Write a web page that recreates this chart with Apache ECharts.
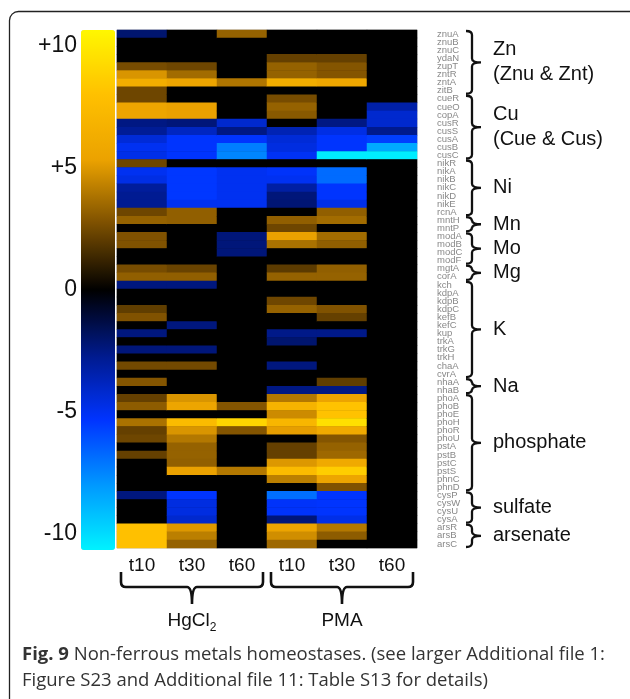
<!DOCTYPE html>
<html>
<head>
<meta charset="utf-8">
<script src="https://cdn.jsdelivr.net/npm/echarts@6/dist/echarts.min.js"></script>
<style>
  html, body { margin: 0; padding: 0; background: #fff; }
  #chart { width: 630px; height: 699px; }
</style>
</head>
<body>
<div id="chart"></div>
<script>
const genes = [
  "znuA", "znuB", "znuC", "ydaN", "zupT", "zntR", "zntA", "zitB",
  "cueR", "cueO", "copA", "cusR", "cusS", "cusA", "cusB", "cusC",
  "nikR", "nikA", "nikB", "nikC", "nikD", "nikE", "rcnA",
  "mntH", "mntP",
  "modA", "modB", "modC", "modF",
  "mgtA", "corA",
  "kch", "kdpA", "kdpB", "kdpC", "kefB", "kefC", "kup", "trkA", "trkG", "trkH", "chaA", "cvrA",
  "nhaA", "nhaB",
  "phoA", "phoB", "phoE", "phoH", "phoR", "phoU", "pstA", "pstB", "pstC", "pstS", "phnC", "phnD",
  "cysP", "cysW", "cysU", "cysA",
  "arsR", "arsB", "arsC"
];
const groupNames = ["Zn\n(Znu & Znt)", "Cu\n(Cue & Cus)", "Ni", "Mn", "Mo", "Mg", "K", "Na", "phosphate", "sulfate", "arsenate"];
const groupSizes = [8, 8, 7, 2, 4, 2, 12, 2, 12, 4, 3];
const timeLabels = ["t10", "t30", "t60", "t10", "t30", "t60"];
const treatments = ["HgCl2", "PMA"];
const colorbarTicks = [10, 5, 0, -5, -10];

// log2 fold change, one array per column, rows in gene order
const hgcl2T10 = [
  -2.1, 0, 0, 0, 2.6, 4.9, 6.3, 2.4,
  2.4, 5.6, 5.6, -2.5, -2.9, -4.4, -5, -4.8,
  2.4, -5, -4.7, -3, -2.8, -2.8, 2.4,
  3.3, 0,
  2.8, 2.8, 0, 0,
  2.6, 3.2,
  -2.4, 0, 0, 2.1, 2.8, 0, -2.4, 0, -2.3, 0, 2.5, 0,
  2.9, 0,
  2.2, 3.1, 0, 3.8, 2.2, 2.4, 0, 2.2, 0, 0, 0, 0,
  -2.4, 0, 0, 0,
  8, 8, 8
];
const hgcl2T30 = [
  0, 0, 0, 0, 2.4, 3.6, 5.6, 0,
  0, 5.3, 5.3, -2.3, -3.9, -5.3, -5.3, -5.3,
  0, -5.4, -5.4, -5.4, -5.4, -5, 3.2,
  3.2, 0,
  0, 0, 0, 0,
  2.3, 3.2,
  -2.4, 0, 0, 0, 0, -2.4, 0, 0, -2.3, 0, 2.5, 0,
  0, 0,
  4.9, 5.6, 0, 7.5, 4.9, 4, 3.3, 3.3, 3.2, 5.3, 0, 0,
  -5.3, -4.6, -4.6, -4.2,
  5, 4.2, 3.3
];
const hgcl2T60 = [
  3.3, 0, 0, 0, 0, 0, 3.9, 0,
  0, 0, 0, -4.2, -2.5, -5.3, -7.3, -7.5,
  0, -5, -5, -5, -5, -5, 0,
  0, 0,
  -2.3, -2.3, -2.3, 0,
  0, 0,
  0, 0, 0, 0, 0, 0, 0, 0, 0, 0, 0, 0,
  0, 0,
  0, 2.9, 0, 9, 2.9, 0, 0, 0, 0, 4, 0, 0,
  0, 0, 0, 0,
  0, 0, 0
];
const pmaT10 = [
  0, 0, 0, 2.2, 3.3, 3.3, 6.3, 0,
  2.6, 3.3, 3.0, 0, -3.6, -4.4, -4.6, -5.1,
  0, -5.2, -5, -3.2, -2.3, -2.2, 0,
  3.2, 2.4,
  5.3, 3.8, 0, 0,
  2, 3.3,
  0, 0, 2.4, 3.3, 0, 0, -2.6, -2.1, 0, 0, -2.4, 0,
  0, -2.5,
  4, 6.8, 4.6, 7.1, 5.2, 0, 2.2, 2.2, 5, 7.5, 4.2, 0,
  -6.9, -5.2, -5.2, -2.3,
  5.5, 4.7, 3.5
];
const pmaT30 = [
  0, 0, 0, 2.2, 2.9, 2.9, 5.8, 0,
  0, 0, 0, -2.5, -4.7, -5.3, -5.3, -10.5,
  0, -6.8, -6.8, -5.3, -5.3, -4.8, 3.2,
  3.6, 0,
  3.6, 3.2, 0, 0,
  3.2, 3.3,
  0, 0, 0, 2.8, 2.2, 0, -2.6, 0, 0, 0, 0, 0,
  2.1, -2.5,
  5.5, 8.1, 8.1, 9.5, 6, 2.9, 3.3, 3.5, 6, 8.6, 5.6, 2.8,
  -5.3, -5.3, -5.3, -4.8,
  4, 3.1, 0
];
const pmaT60 = [
  0, 0, 0, 0, 0, 0, 0, 0,
  0, -3.3, -4.2, -4.2, -2.7, -5.6, -8.5, -10.5,
  0, 0, 0, 0, 0, 0, 0,
  0, 0,
  0, 0, 0, 0,
  0, 0,
  0, 0, 0, 0, 0, 0, 0, 0, 0, 0, 0, 0,
  0, 0,
  0, 0, 0, 0, 0, 0, 0, 0, 0, 0, 0, 0,
  0, 0, 0, 0,
  0, 0, 0
];

const SANS = '"Liberation Sans", Arial, sans-serif';
const columns = [hgcl2T10, hgcl2T30, hgcl2T60, pmaT10, pmaT30, pmaT60];

const cells = [];
columns.forEach((col, c) => {
  col.forEach((v, r) => cells.push([c, r, v]));
});

// gene group ranges [firstRow, lastRow]
const groupRanges = [];
let start = 0;
groupSizes.forEach((n) => {
  groupRanges.push([start, start + n - 1]);
  start += n;
});
const treatmentRanges = [[0, 2], [3, 5]];

function subLabel(name) {
  const m = name.match(/^(\D+)(\d*)$/);
  return "{m|" + m[1] + "}" + (m[2] ? "{s|" + m[2] + "}" : "");
}

function rightBrace(params, api) {
  const s = api.value(0);
  const e = api.value(1);
  const rowH = api.size([0, 1])[1];
  const colW = api.size([1, 0])[0];
  const bx = api.coord([5, 0])[0] + colW / 2 + 55;
  const top = api.coord([0, s])[1] - rowH / 2 + 1;
  const bot = api.coord([0, e])[1] + rowH / 2 - 1;
  const mid = (top + bot) / 2;
  const path =
    "M" + (bx - 6) + " " + top +
    " Q" + bx + " " + top + " " + bx + " " + (top + 4) +
    " L" + bx + " " + (mid - 4) +
    " Q" + bx + " " + mid + " " + (bx + 9) + " " + mid +
    " Q" + bx + " " + mid + " " + bx + " " + (mid + 4) +
    " L" + bx + " " + (bot - 4) +
    " Q" + bx + " " + bot + " " + (bx - 6) + " " + bot;
  return {
    type: "group",
    children: [
      {
        type: "path",
        shape: { pathData: path },
        style: { fill: "none", stroke: "#111", lineWidth: 2.3 }
      },
      {
        type: "text",
        x: bx + 21,
        y: mid,
        style: {
          text: groupNames[params.dataIndex],
          fill: "#111",
          font: "20px " + SANS,
          align: "left",
          verticalAlign: "middle",
          lineHeight: 25
        }
      }
    ]
  };
}

function bottomBrace(params, api) {
  const s = api.value(0);
  const e = api.value(1);
  const rowH = api.size([0, 1])[1];
  const colW = api.size([1, 0])[0];
  const gb = api.coord([0, genes.length - 1])[1] + rowH / 2;
  const left = api.coord([s, 0])[0] - colW / 2 + 4;
  const right = api.coord([e, 0])[0] + colW / 2 - 4;
  const mid = (left + right) / 2;
  const yTop = gb + 24;
  const yLine = gb + 39;
  const yTip = gb + 56;
  const path =
    "M" + left + " " + yTop +
    " L" + left + " " + (yLine - 5) +
    " Q" + left + " " + yLine + " " + (left + 5) + " " + yLine +
    " L" + (mid - 5) + " " + yLine +
    " Q" + mid + " " + yLine + " " + mid + " " + yTip +
    " Q" + mid + " " + yLine + " " + (mid + 5) + " " + yLine +
    " L" + (right - 5) + " " + yLine +
    " Q" + right + " " + yLine + " " + right + " " + (yLine - 5) +
    " L" + right + " " + yTop;
  return {
    type: "group",
    children: [
      {
        type: "path",
        shape: { pathData: path },
        style: { fill: "none", stroke: "#111", lineWidth: 2.6 }
      },
      {
        type: "text",
        x: mid,
        y: gb + 73,
        style: {
          text: subLabel(treatments[params.dataIndex]),
          align: "center",
          verticalAlign: "middle",
          rich: {
            m: { fontSize: 19, fontFamily: SANS, fill: "#111", lineHeight: 26 },
            s: { fontSize: 12, fontFamily: SANS, fill: "#111", lineHeight: 26, verticalAlign: "bottom" }
          }
        }
      }
    ]
  };
}

const chart = echarts.init(document.getElementById("chart"));
chart.setOption({
  animation: false,
  backgroundColor: "#fff",
  title: {
    left: 22,
    top: 642,
    padding: 0,
    text:
      "{b|Fig. 9} Non-ferrous metals homeostases. (see larger Additional file 1:\n" +
      "Figure S23 and Additional file 11: Table S13 for details)",
    textStyle: {
      fontSize: 18.5,
      fontWeight: "normal",
      fontFamily: '"Open Sans", sans-serif',
      color: "#333",
      lineHeight: 26,
      rich: {
        b: { fontSize: 18.5, fontWeight: "bold", fontFamily: '"Open Sans", sans-serif', color: "#333", lineHeight: 26 }
      }
    }
  },
  graphic: [
    {
      type: "rect",
      silent: true,
      z: -10,
      shape: { x: 9.5, y: 11.5, width: 700, height: 740, r: 9 },
      style: { fill: "none", stroke: "#222", lineWidth: 1.3 }
    }
  ],
  grid: [
    { left: 117, top: 30, width: 300, height: 518, show: true, borderColor: "#bbb", borderWidth: 1, backgroundColor: "#000" },
    { left: 81, top: 30, width: 34, height: 520 }
  ],
  xAxis: [
    {
      type: "category",
      gridIndex: 0,
      data: timeLabels,
      axisLine: { show: false },
      axisTick: { show: false },
      splitLine: { show: false },
      axisLabel: { fontSize: 19, fontFamily: SANS, color: "#111", margin: 8, interval: 0 }
    },
    { type: "value", gridIndex: 1, show: false, min: 0, max: 1 }
  ],
  yAxis: [
    {
      type: "category",
      gridIndex: 0,
      data: genes,
      inverse: true,
      position: "right",
      axisLine: { show: false },
      axisTick: { show: false },
      splitLine: { show: false },
      axisLabel: {
        fontSize: 9.5,
        fontFamily: '"Liberation Sans Narrow", "Liberation Sans", Arial, sans-serif',
        color: "#888",
        margin: 20,
        interval: 0
      }
    },
    {
      type: "value",
      gridIndex: 1,
      min: -10.65,
      max: 10.65,
      position: "left",
      axisLine: { show: false },
      axisTick: { show: false },
      splitLine: { show: false },
      axisLabel: {
        customValues: colorbarTicks,
        formatter: (v) => (v > 0 ? "+" + v : String(v)),
        fontSize: 23,
        fontFamily: SANS,
        color: "#111",
        margin: 4
      }
    }
  ],
  visualMap: {
    type: "continuous",
    seriesIndex: 0,
    min: -10.65,
    max: 10.65,
    calculable: false,
    hoverLink: false,
    left: 81,
    top: 30,
    padding: 0,
    itemWidth: 34,
    itemHeight: 520,
    text: null,
    showLabel: false,
    inRange: {
      color: ["#00f2ff", "#0098ff", "#0034ff", "#001a8c", "#000000", "#7a4e00", "#eba200", "#ffc000", "#fff700"]
    }
  },
  series: [
    {
      type: "heatmap",
      xAxisIndex: 0,
      yAxisIndex: 0,
      data: cells,
      itemStyle: { borderWidth: 0 },
      emphasis: { disabled: true },
      progressive: 0
    },
    {
      type: "custom",
      xAxisIndex: 0,
      yAxisIndex: 0,
      clip: false,
      silent: true,
      encode: { y: [0, 1] },
      data: groupRanges,
      renderItem: rightBrace
    },
    {
      type: "custom",
      xAxisIndex: 0,
      yAxisIndex: 0,
      clip: false,
      silent: true,
      encode: { x: [0, 1] },
      data: treatmentRanges,
      renderItem: bottomBrace
    }
  ]
});
</script>
</body>
</html>
